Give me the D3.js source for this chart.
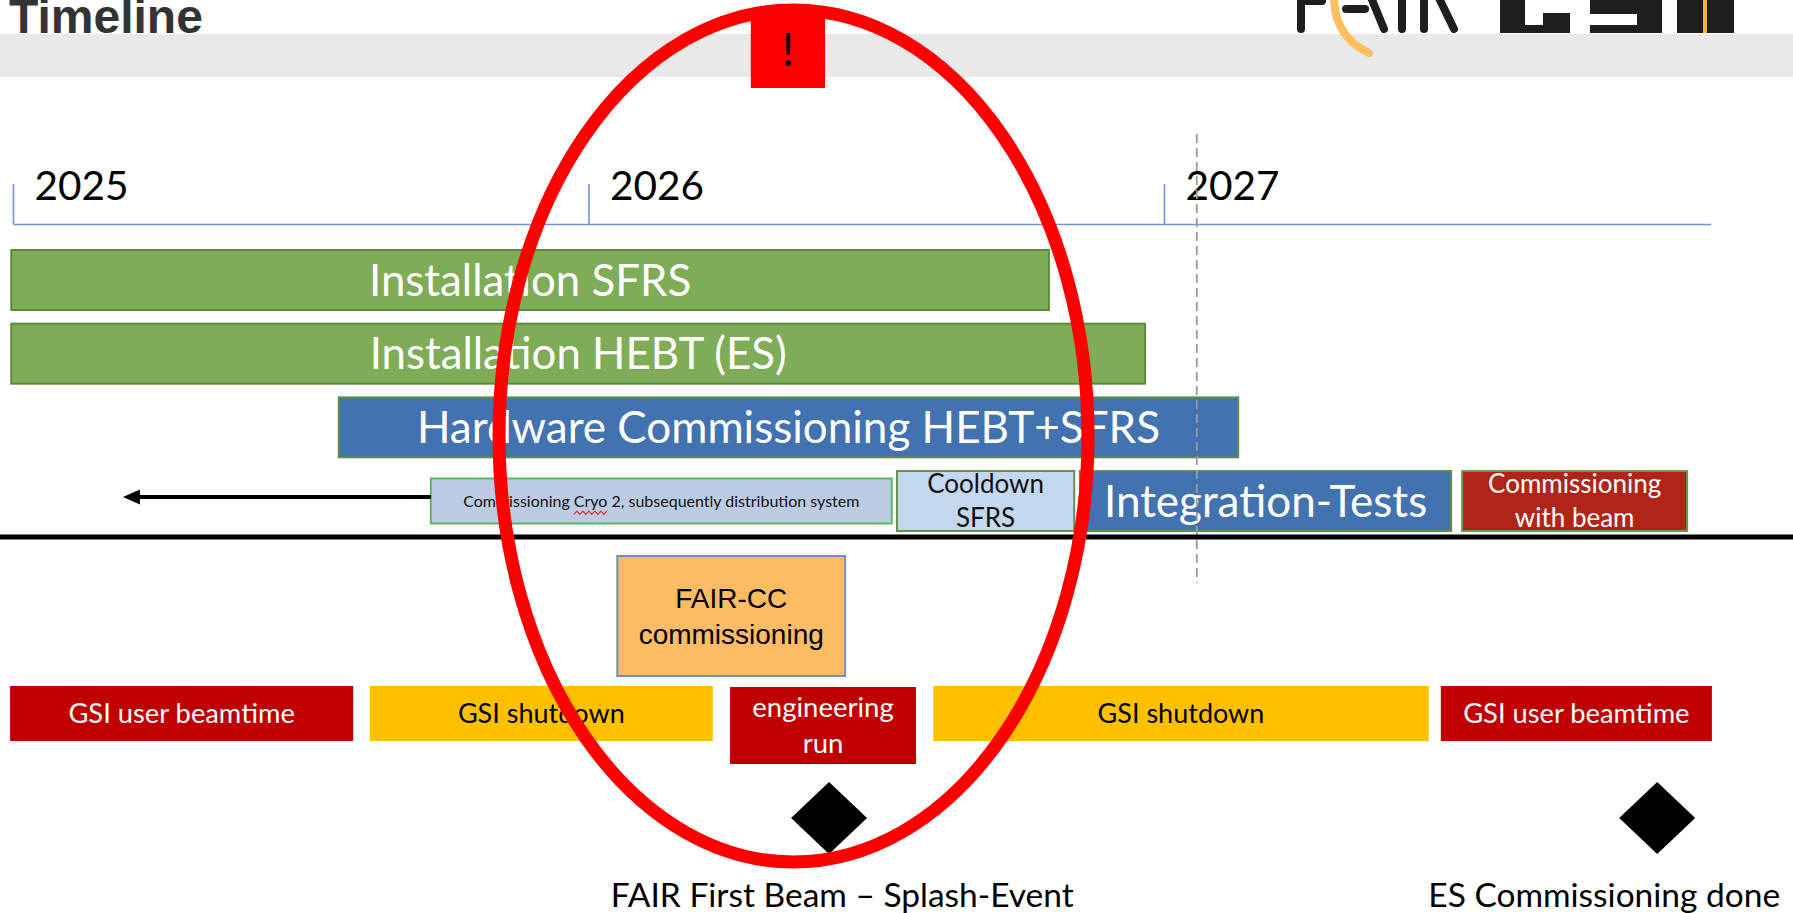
<!DOCTYPE html>
<html><head><meta charset="utf-8">
<script src="https://cdn.jsdelivr.net/npm/d3@7"></script>
<style>html,body{margin:0;padding:0;background:#fff;overflow:hidden}</style>
</head><body>
<svg id="chart" width="1793" height="913"></svg>
<script>
// ---------------- DATA ----------------
const title = "Timeline";
const years = [2025, 2026, 2027];

// upper swim-lane (dates in fractional years, row index)
const upperTasks = [
  {label: "Installation SFRS", start: 2024.997, end: 2026.800, row: 0, kind: "install"},
  {label: "Installation HEBT (ES)", start: 2024.997, end: 2026.967, row: 1, kind: "install"},
  {label: "Hardware Commissioning HEBT+SFRS", start: 2025.566, end: 2027.129, row: 2, kind: "hw"},
  {label: "Commissioning Cryo 2, subsequently distribution system", start: 2025.726, end: 2026.527, row: 3, kind: "cryo"},
  {label: "Cooldown|SFRS", start: 2026.536, end: 2026.844, row: 3, kind: "cool"},
  {label: "Integration-Tests", start: 2026.854, end: 2027.499, row: 3, kind: "hw"},
  {label: "Commissioning|with beam", start: 2027.518, end: 2027.909, row: 3, kind: "beam"}
];
const arrowBack = {from: 2025.726, to: 2025.191};
const nowMarker = [2027.057];

// lower lane
const fairCC = [{label: "FAIR-CC|commissioning", start: 2026.050, end: 2026.446}];
const gsiPeriods = [
  {label: "GSI user beamtime", start: 2024.995, end: 2025.591, kind: "user"},
  {label: "GSI shutdown", start: 2025.620, end: 2026.216, kind: "shutdown"},
  {label: "engineering|run", start: 2026.246, end: 2026.569, kind: "eng"},
  {label: "GSI shutdown", start: 2026.599, end: 2027.460, kind: "shutdown"},
  {label: "GSI user beamtime", start: 2027.481, end: 2027.952, kind: "user"}
];
const milestones = [
  {label: "FAIR First Beam – Splash-Event", date: 2026.418, labelAt: 2026.441},
  {label: "ES Commissioning done", date: 2027.857, labelAt: 2027.765}
];
const highlight = {start: 2025.8445, end: 2026.868, mark: "!", markStart: 2026.282, markEnd: 2026.411};

// ---------------- LAYOUT / STYLE ----------------
const W = 1793, H = 913;
const CAL = "Lato, 'Open Sans', sans-serif";
const ARIAL = "'Liberation Sans', Arial, sans-serif";
const CAP = 0.358; // half cap-height factor

const svg = d3.select("#chart");
const x = d3.scaleLinear().domain([2025, 2027.95]).range([13, 13 + 2.95 * 575.5]);
const rowY = d3.scaleLinear().domain([0, 3]).range([250, 471]);

function multiline(g, label, cx, cy, size, color, family) {
  const lines = label.split("|");
  const gap = size * 1.3;
  return lines.map((t, i) => g.append("text")
    .attr("x", cx)
    .attr("y", cy + (i - (lines.length - 1) / 2) * gap + CAP * size)
    .attr("text-anchor", "middle")
    .attr("font-family", family)
    .attr("font-size", size)
    .attr("fill", color)
    .text(t));
}

// header band
svg.append("rect").attr("x", 0).attr("y", 34).attr("width", W).attr("height", 43).attr("fill", "#e9e9e9");
svg.append("text").attr("x", 9).attr("y", 33)
  .attr("font-family", ARIAL).attr("font-weight", "bold").attr("font-size", 48)
  .attr("fill", "#333").text(title);

// logo (FAIR  GSI), cut at top edge
const logo = svg.append("g");
const ink = "#1f1d1e";
[[1301,-10,1301,29],[1301,1,1322,1],[1346,9,1365,9],[1368,-10,1384,29],[1402,-10,1402,29],[1424,-10,1424,29],[1438,-4,1454,29]]
  .forEach(l => logo.append("line").attr("x1", l[0]).attr("y1", l[1]).attr("x2", l[2]).attr("y2", l[3])
    .attr("stroke", ink).attr("stroke-width", 8).attr("stroke-linecap", "round"));
logo.append("path").attr("d", "M1334,-6 Q1333,36 1369,53").attr("fill", "none")
  .attr("stroke", "#fbbf5e").attr("stroke-width", 8).attr("stroke-linecap", "round");
logo.append("rect").attr("x", 1500).attr("y", -5).attr("width", 70).attr("height", 38).attr("fill", ink);
logo.append("rect").attr("x", 1525).attr("y", -5).attr("width", 18).attr("height", 30).attr("fill", "#fff");
logo.append("rect").attr("x", 1543).attr("y", -5).attr("width", 27).attr("height", 18).attr("fill", "#fff");
logo.append("rect").attr("x", 1590).attr("y", -5).attr("width", 72).attr("height", 38).attr("fill", ink);
logo.append("rect").attr("x", 1590).attr("y", 14).attr("width", 47).attr("height", 11).attr("fill", "#fff");
logo.append("rect").attr("x", 1677).attr("y", -5).attr("width", 57).attr("height", 38).attr("fill", ink);
logo.append("rect").attr("x", 1703).attr("y", -5).attr("width", 4).attr("height", 38).attr("fill", "#f5b041");

// axis
const axis = d3.axisTop(x).tickValues(years).tickSize(40).tickSizeOuter(0).tickFormat(d3.format("d"));
const ag = svg.append("g").attr("transform", "translate(0,224)").call(axis);
ag.select(".domain").attr("stroke", "#7493d6").attr("stroke-width", 1.6);
ag.selectAll(".tick line").attr("stroke", "#7493d6").attr("stroke-width", 1.6);
ag.selectAll(".tick text").attr("x", 21).attr("y", -24).attr("dy", null)
  .attr("text-anchor", "start").attr("font-family", CAL).attr("font-size", 40.5).attr("fill", "#000");

// upper tasks
const upStyle = {
  install: {fill: "#7fac57", stroke: "#5b8a3b", color: "#fff", size: 43.8, h: 60},
  hw:      {fill: "#4372b0", stroke: "#5f8f47", color: "#fff", size: 44, h: 60},
  cryo:    {fill: "#bccbe4", stroke: "#5cb85c", color: "#111", size: 16, h: 45},
  cool:    {fill: "#c3d8ee", stroke: "#6b8f4e", color: "#111", size: 26, h: 60},
  beam:    {fill: "#b2241a", stroke: "#6d9a4d", color: "#fff", size: 26, h: 60}
};
const upG = svg.append("g");
upperTasks.forEach(d => {
  const s = upStyle[d.kind];
  const cy = rowY(d.row) + 30;
  upG.append("rect").attr("x", x(d.start)).attr("y", cy - s.h / 2)
    .attr("width", x(d.end) - x(d.start)).attr("height", s.h)
    .attr("fill", s.fill).attr("stroke", s.stroke).attr("stroke-width", 2);
  const texts = multiline(upG, d.label, (x(d.start) + x(d.end)) / 2, cy, s.size, s.color, CAL);
  if (d.kind === "cryo") {
    const el = texts[0].node();
    const idx = d.label.indexOf("Cryo");
    const total = el.getComputedTextLength();
    const x0 = (x(d.start) + x(d.end)) / 2 - total / 2 + el.getSubStringLength(0, idx);
    const wlen = el.getSubStringLength(idx, 4);
    const by = cy + CAP * s.size + 6;
    const pts = [];
    for (let k = 0; k <= Math.round(wlen / 3); k++) pts.push([x0 + k * 3, by + (k % 2 ? -1.6 : 1.6)]);
    upG.append("path").attr("d", d3.line()(pts)).attr("fill", "none").attr("stroke", "#e03030").attr("stroke-width", 1.2);
  }
});

// arrow back in time
const arrowY = rowY(3) + 30 - 4;
svg.append("line").attr("x1", x(arrowBack.from)).attr("x2", x(arrowBack.to) + 14)
  .attr("y1", arrowY).attr("y2", arrowY).attr("stroke", "#000").attr("stroke-width", 4);
svg.append("path").attr("d", `M${x(arrowBack.to)},${arrowY} L${x(arrowBack.to) + 17},${arrowY - 7.5} L${x(arrowBack.to) + 17},${arrowY + 7.5} Z`).attr("fill", "#000");

// dashed marker
svg.selectAll(".now").data(nowMarker).enter().append("line")
  .attr("x1", d => x(d)).attr("x2", d => x(d)).attr("y1", 134).attr("y2", 583)
  .attr("stroke", "#9a9a9a").attr("stroke-width", 1.8).attr("stroke-dasharray", "9,5");

// separator
svg.append("line").attr("x1", 0).attr("x2", W).attr("y1", 537).attr("y2", 537)
  .attr("stroke", "#000").attr("stroke-width", 5);

// FAIR-CC
fairCC.forEach(d => {
  svg.append("rect").attr("x", x(d.start)).attr("y", 556).attr("width", x(d.end) - x(d.start)).attr("height", 120)
    .attr("fill", "#fbbc63").attr("stroke", "#6d90c9").attr("stroke-width", 2);
  multiline(svg, d.label, (x(d.start) + x(d.end)) / 2, 616, 28, "#000", ARIAL);
});

// GSI periods
const lowStyle = {
  user:     {fill: "#c00000", color: "#fff", y: 686, h: 55, size: 27.3},
  shutdown: {fill: "#ffc000", color: "#000", y: 686, h: 55, size: 27},
  eng:      {fill: "#c00000", color: "#fff", y: 687, h: 77, size: 27.5}
};
gsiPeriods.forEach(d => {
  const s = lowStyle[d.kind];
  svg.append("rect").attr("x", x(d.start)).attr("y", s.y).attr("width", x(d.end) - x(d.start)).attr("height", s.h)
    .attr("fill", s.fill);
  multiline(svg, d.label, (x(d.start) + x(d.end)) / 2, s.y + s.h / 2, s.size, s.color, CAL);
});

// milestones
milestones.forEach(d => {
  const cx = x(d.date), cy = 818;
  svg.append("path").attr("d", `M${cx},${cy - 36} L${cx + 38},${cy} L${cx},${cy + 36} L${cx - 38},${cy} Z`).attr("fill", "#000");
  svg.append("text").attr("x", x(d.labelAt)).attr("y", 907).attr("text-anchor", "middle")
    .attr("font-family", CAL).attr("font-size", 33.5).attr("fill", "#000").text(d.label);
});

// highlight ellipse + "!" box
const ex0 = x(highlight.start), ex1 = x(highlight.end);
svg.append("ellipse").attr("cx", (ex0 + ex1) / 2).attr("cy", 436).attr("rx", (ex1 - ex0) / 2).attr("ry", 426)
  .attr("fill", "none").attr("stroke", "#ff0000").attr("stroke-width", 13);
svg.append("rect").attr("x", x(highlight.markStart)).attr("y", 14)
  .attr("width", x(highlight.markEnd) - x(highlight.markStart)).attr("height", 74).attr("fill", "#ff0000");
svg.append("text").attr("x", (x(highlight.markStart) + x(highlight.markEnd)) / 2).attr("y", 66)
  .attr("text-anchor", "middle").attr("font-family", CAL).attr("font-size", 46).attr("fill", "#000").text(highlight.mark);
</script>
</body></html>
